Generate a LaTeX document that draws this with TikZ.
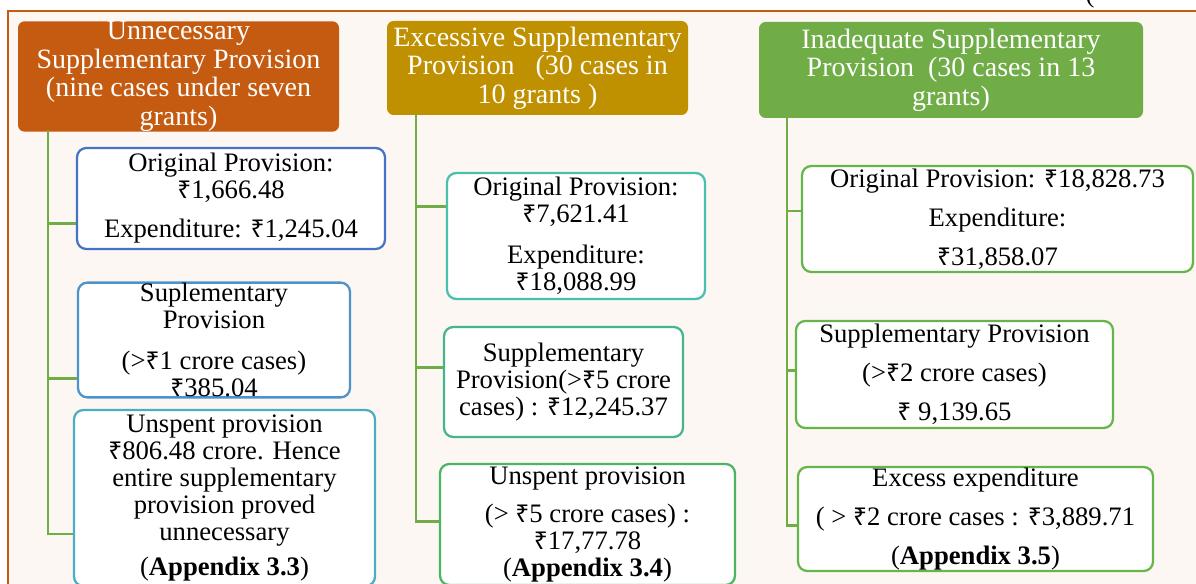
\documentclass[tikz,border=0pt]{standalone}
\usepackage{fontspec}
\setmainfont{Liberation Serif}
\newfontfamily\rsfont[Scale=0.92]{Noto Sans}
\newcommand\rs{{\rsfont ₹}}
\definecolor{rust}{HTML}{C55A11}
\definecolor{gold}{HTML}{BF9000}
\definecolor{leaf}{HTML}{70AD47}
\definecolor{cream}{HTML}{FCF7F3}
\definecolor{blueA}{HTML}{4472C4}
\definecolor{blueB}{HTML}{4C93CC}
\definecolor{blueC}{HTML}{4BACC6}
\definecolor{tealA}{HTML}{4BBFAE}
\definecolor{tealB}{HTML}{46B48C}
\definecolor{tealC}{HTML}{4CB463}
\definecolor{grn}{HTML}{65B54A}
\begin{document}
\begin{tikzpicture}[x=0.75pt,y=-0.75pt,
  wh/.style 2 args={minimum width=#1*0.75pt, minimum height=#2*0.75pt},
  head/.style={rounded corners=5pt, text=white, align=center, inner sep=0pt, font=\fontsize{21}{21.5}\selectfont},
  card/.style={draw, line width=1.7pt, rounded corners=7pt, fill=white, align=center, inner sep=0pt, font=\fontsize{20}{20.3}\selectfont},
  conn/.style={draw=leaf, line width=2.2pt}]
\clip (0,0) rectangle (1196,584);
\fill[cream] (8,11) rectangle (1210,600);
\draw[rust, line width=1.6pt] (1210,11) -- (8,11) -- (8,600);
\node[anchor=base, font=\fontsize{20}{20}\selectfont] (paren) at (1090,3) {(};

\node[head, fill=rust, wh={321}{110}] (h1) at (178.5,76.5) {Unnecessary\\ Supplementary Provision\\ (nine cases under seven\\ grants)};
\node[head, fill=gold, wh={301}{94}] (h2) at (537.5,68) {Excessive Supplementary\\ Provision\ \ \ (30 cases in\\ 10 grants )};
\node[head, fill=leaf, wh={384}{96}] (h3) at (951,70) {Inadequate Supplementary\\ Provision\ \ (30 cases in 13\\ grants)};

\node[card, draw=blueA, wh={308}{101}] (b11) at (231,198.5) {Original Provision:\\ \rs1,666.48\\[9pt] Expenditure: \rs1,245.04};
\node[card, draw=blueB, wh={272}{114}] (b12) at (214,340) {Suplementary\\ Provision\\[11pt] (>\rs1 crore cases)\\ \rs385.04};
\node[card, draw=blueC, wh={301}{176}] (b13) at (224.5,498) {Unspent provision\\ \rs806.48 crore. Hence\\ entire supplementary\\ provision proved\\ unnecessary\\[6pt] (\textbf{Appendix 3.3})};

\node[card, draw=tealA, wh={258}{126}] (b21) at (576,236) {Original Provision:\\ \rs7,621.41\\[10pt] Expenditure:\\ \rs18,088.99};
\node[card, draw=tealB, wh={239}{110}] (b22) at (563.5,382) {Supplementary\\ Provision(>\rs5 crore\\ cases) : \rs12,245.37};
\node[card, draw=tealC, wh={295}{121}] (b23) at (587.5,524.5) {Unspent provision\\[8pt] (> \rs5 crore cases) :\\ \rs17,77.78\\ (\textbf{Appendix 3.4})};

\node[card, draw=grn, wh={391}{106}] (b31) at (997.5,219) {Original Provision: \rs18,828.73\\[9pt] Expenditure:\\[9pt] \rs31,858.07};
\node[card, draw=grn, wh={317}{107}] (b32) at (954.5,374.5) {Supplementary Provision\\[9pt] (>\rs2 crore cases)\\[9pt] \rs\ 9,139.65};
\node[card, draw=grn, wh={355}{104}] (b33) at (975.5,519) {Excess expenditure\\[9pt] ( > \rs2 crore cases : \rs3,889.71\\[9pt] (\textbf{Appendix 3.5})};

\coordinate (t1) at (48,130);
\coordinate (t2) at (416,115);
\coordinate (t3) at (787,118);
\foreach \b/\s in {b11/-19pt, b12/-29pt, b13/-27pt}
  \draw[conn] (t1) |- ([yshift=\s]\b.west);
\foreach \b/\s in {b21/22pt, b22/11pt, b23/2.6pt}
  \draw[conn] (t2) |- ([yshift=\s]\b.west);
\foreach \b/\s in {b31/6pt, b32/3pt, b33/-5pt}
  \draw[conn] (t3) |- ([yshift=\s]\b.west);
\end{tikzpicture}
\end{document}
